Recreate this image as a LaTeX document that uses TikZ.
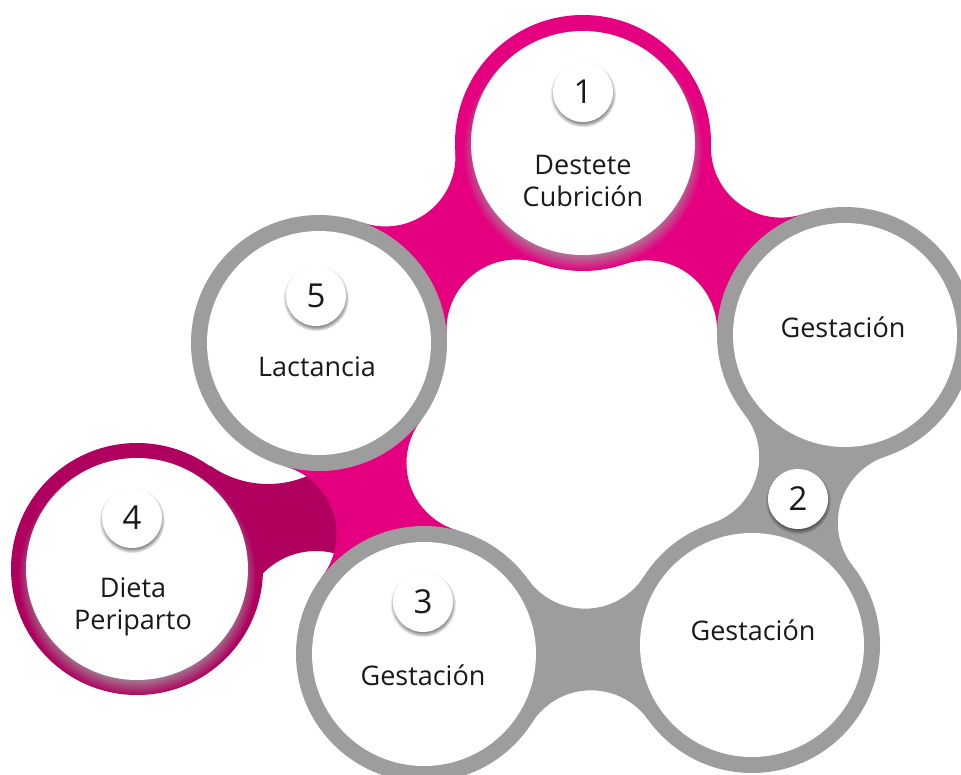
\documentclass[tikz,border=0pt]{standalone}
\usepackage{fontspec}
\setmainfont{Open Sans}
\usetikzlibrary{intersections,shadows,fadings}
\definecolor{pinkc}{HTML}{E4007F}
\definecolor{darkc}{HTML}{B0005F}
\definecolor{greyc}{HTML}{9D9D9D}
\definecolor{txtc}{HTML}{1A1A1A}
% metaball band between two circles: centre A, radius A, centre B, radius B, colour
\newcommand\mband[5]{%
  \path[name path=gapa] (#1) circle[radius=#2+70];
  \path[name path=gapb] (#3) circle[radius=#4+70];
  \path[name intersections={of=gapa and gapb, by={qa,qb}}];
  \begin{scope}
    \clip (#1) -- (qa) -- (#3) -- (qb) -- cycle;
    \fill[#5, even odd rule] (-100,-100) rectangle (1100,900)
      (qa) circle[radius=70] (qb) circle[radius=70];
  \end{scope}}
\tikzset{
  outerdisk/.style={circle, fill=#1, draw=none, inner sep=0pt, minimum size=256pt},
  innerdisk/.style={circle, fill=white, draw=none, inner sep=0pt, minimum size=224pt,
    circular drop shadow={shadow xshift=0pt, shadow yshift=-7pt, shadow scale=1.07, fill=greyc, opacity=.85}},
  badge/.style={circle, fill=white, draw=none, inner sep=0pt, minimum size=60pt, text=txtc,
    font=\fontsize{33}{33}\selectfont,
    circular drop shadow={shadow xshift=0pt, shadow yshift=-2pt, shadow scale=1.1, fill=black, opacity=.45}},
  lbl/.style={align=center, text=txtc, inner sep=0pt, font=\fontsize{27}{32}\selectfont},
}
\begin{document}
\begin{tikzpicture}[x=1pt,y=-1pt]
\useasboundingbox (0,0) rectangle (961,775);
\clip (0,0) rectangle (961,775);
% circle centres
\coordinate (cA) at (583,143);  % 1 Destete
\coordinate (cG) at (845,335);  % Gestacion top right
\coordinate (cH) at (752,645);  % Gestacion bottom right
\coordinate (cC) at (424,654);  % 3 Gestacion
\coordinate (cL) at (319,343);  % 5 Lactancia
\coordinate (cD) at (137,569);  % 4 Dieta
% dark band from circle 4 (under the pink band)
\coordinate (dqU) at (268,384);
\coordinate (dqL) at (316,625);
\coordinate (dX) at (372,500);
\begin{scope}
  \clip (cD) -- (dqU) -- (dX) -- (dqL) -- cycle;
  \fill[darkc, even odd rule] (-100,-100) rectangle (1100,900)
    (dqU) circle[radius=100] (dqL) circle[radius=74];
\end{scope}
% bands
\mband{cA}{128}{cL}{128}{pinkc}
\mband{cA}{128}{cG}{128}{pinkc}
\mband{cL}{128}{cC}{128}{pinkc}
\mband{cG}{128}{cH}{128}{greyc}
\mband{cC}{128}{cH}{128}{greyc}
% circles
\node[outerdisk=pinkc] (oA) at (cA) {};
\node[innerdisk] (iA) at (cA) {};
\node[outerdisk=greyc] (oG) at (cG) {};
\node[innerdisk] (iG) at (cG) {};
\node[outerdisk=greyc] (oH) at (cH) {};
\node[innerdisk] (iH) at (cH) {};
\node[outerdisk=greyc] (oC) at (cC) {};
\node[innerdisk] (iC) at (cC) {};
\node[outerdisk=greyc] (oL) at (cL) {};
\node[innerdisk] (iL) at (cL) {};
\node[outerdisk=darkc, minimum size=252pt] (oD) at (cD) {};
\node[innerdisk, minimum size=222pt] (iD) at (cD) {};
% labels
\node[lbl] (tA) at (583,181) {Destete\\Cubrición};
\node[lbl] (tG) at (843,327) {Gestación};
\node[lbl] (tH) at (753,630) {Gestación};
\node[lbl] (tC) at (423,675) {Gestación};
\node[lbl] (tL) at (317,367) {Lactancia};
\node[lbl] (tD) at (133,607) {Dieta\\Periparto};
% number badges
\node[badge] (bA) at (583,92) {1};
\node[badge] (bB) at (798,499) {2};
\node[badge] (bC) at (423,602) {3};
\node[badge] (bD) at (132,518) {4};
\node[badge] (bL) at (316,296) {5};
\end{tikzpicture}
\end{document}
